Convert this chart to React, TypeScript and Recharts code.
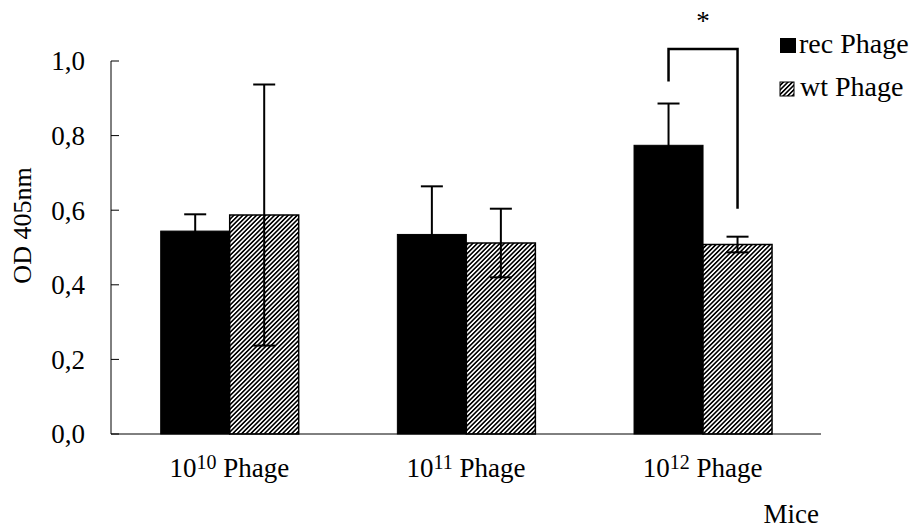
import React from "react";
import { BarChart, Bar, XAxis, YAxis, ErrorBar, Label } from "recharts";

const categories = ["10^10 Phage", "10^11 Phage", "10^12 Phage"];
const seriesNames = ["rec Phage", "wt Phage"];
const recValues = [0.544, 0.535, 0.774];
const recErrors = [0.045, 0.129, 0.112];
const wtValues = [0.587, 0.512, 0.508];
const wtErrors = [0.35, 0.092, 0.021];
const significant = [false, false, true];
// bracket: top line, left foot, right foot
const bracketLevels = [1.032, 0.945, 0.604];
const yTicks = [0, 0.2, 0.4, 0.6, 0.8, 1.0];

const FONT = "Liberation Serif";

const data = categories.map((c, i) => ({
  category: c,
  rec: recValues[i],
  recErr: recErrors[i],
  wt: wtValues[i],
  wtErr: wtErrors[i],
}));

function RecShape(props: any) {
  const { x, y, width, height, index } = props;
  const base = y + height;
  const unit = height / recValues[index];
  const toY = (v: number) => base - v * unit;
  const lx = x + width / 2;
  const rx = x + width * 1.5;
  return (
    <g>
      <rect x={x} y={y} width={width} height={height} fill="#000" stroke="#000" strokeWidth={1} />
      {significant[index] && (
        <g>
          <path
            d={`M${lx},${toY(bracketLevels[1])}V${toY(bracketLevels[0])}H${rx}V${toY(bracketLevels[2])}`}
            fill="none"
            stroke="#000"
            strokeWidth={2.5}
          />
          <text x={(lx + rx) / 2} y={toY(bracketLevels[0]) - 19} textAnchor="middle" fontFamily={FONT} fontSize={27} fill="#000">
            *
          </text>
        </g>
      )}
    </g>
  );
}

function YTick(props: any) {
  const { x, y, payload } = props;
  return (
    <g>
      <line x1={x} y1={y} x2={x + 8} y2={y} stroke="#000" strokeWidth={1} />
      <text x={x - 26} y={y} dy="0.35em" textAnchor="end" fontFamily={FONT} fontSize={27} fill="#000">
        {payload.value.toFixed(1).replace(".", ",")}
      </text>
    </g>
  );
}

function XTick(props: any) {
  const { x, y, payload } = props;
  const m = /^(\d+)\^(\d+) (.*)$/.exec(payload.value);
  if (!m) return null;
  return (
    <text x={x} y={y + 43} textAnchor="middle" fontFamily={FONT} fontSize={27} fill="#000">
      <tspan>{m[1]}</tspan>
      <tspan fontSize={20} dy={-8}>{m[2]}</tspan>
      <tspan dy={8}>{" " + m[3]}</tspan>
    </text>
  );
}

function Legend2() {
  return (
    <svg width={915} height={531} style={{ position: "absolute", left: 0, top: 0, pointerEvents: "none" }}>
      <defs>
        <pattern id="hatchLegend" patternUnits="userSpaceOnUse" width={3.2} height={3.2} patternTransform="rotate(45)">
          <rect x={0} y={0} width={3.2} height={3.2} fill="#fff" />
          <rect x={0} y={0} width={1.6} height={3.2} fill="#000" />
        </pattern>
      </defs>
      <rect x={780} y={38} width={16} height={15} fill="#000" />
      <text x={799} y={53} fontFamily={FONT} fontSize={28} fill="#000">{seriesNames[0]}</text>
      <rect x={780} y={82} width={14} height={14} fill="url(#hatchLegend)" stroke="#000" strokeWidth={1} />
      <text x={800} y={96} fontFamily={FONT} fontSize={28} fill="#000">{seriesNames[1]}</text>
    </svg>
  );
}

export default function App() {
  return (
    <div style={{ position: "absolute", left: 0, top: 0, width: 915, height: 531, background: "#fff" }}>
      <BarChart
        width={915}
        height={531}
        data={data}
        margin={{ top: 61, right: 94, bottom: 67, left: 0 }}
        barCategoryGap="21%"
        barGap={0}
      >
        <defs>
          <pattern id="hatch" patternUnits="userSpaceOnUse" width={3.2} height={3.2} patternTransform="rotate(45)">
            <rect x={0} y={0} width={3.2} height={3.2} fill="#fff" />
            <rect x={0} y={0} width={1.6} height={3.2} fill="#000" />
          </pattern>
        </defs>
        <XAxis
          dataKey="category"
          height={30}
          axisLine={{ stroke: "#000", strokeWidth: 1 }}
          tickLine={false}
          tickSize={0}
          tickMargin={0}
          tick={<XTick />}
          interval={0}
        >
          <Label
            content={() => (
              <text x={819} y={523} textAnchor="end" fontFamily={FONT} fontSize={27} fill="#000">
                Mice
              </text>
            )}
          />
        </XAxis>
        <YAxis
          width={111}
          domain={[0, 1]}
          ticks={yTicks}
          axisLine={{ stroke: "#000", strokeWidth: 1 }}
          tickLine={false}
          tickSize={0}
          tickMargin={0}
          tick={<YTick />}
        >
          <Label
            content={(p: any) => {
              const vb = p.viewBox;
              const cx = 22;
              const cy = vb.y + vb.height / 2 - 22;
              return (
                <text
                  x={cx}
                  y={cy}
                  transform={`rotate(-90, ${cx}, ${cy})`}
                  textAnchor="middle"
                  dy="0.35em"
                  fontFamily={FONT}
                  fontSize={26}
                  fill="#000"
                >
                  OD 405nm
                </text>
              );
            }}
          />
        </YAxis>
        <Bar dataKey="rec" name={seriesNames[0]} fill="#000" shape={<RecShape />} isAnimationActive={false}>
          <ErrorBar dataKey="recErr" width={11} strokeWidth={2} stroke="#000" direction="y" />
        </Bar>
        <Bar dataKey="wt" name={seriesNames[1]} fill="url(#hatch)" stroke="#000" strokeWidth={1.5} isAnimationActive={false}>
          <ErrorBar dataKey="wtErr" width={11} strokeWidth={2} stroke="#000" direction="y" />
        </Bar>
      </BarChart>
      <Legend2 />
    </div>
  );
}
